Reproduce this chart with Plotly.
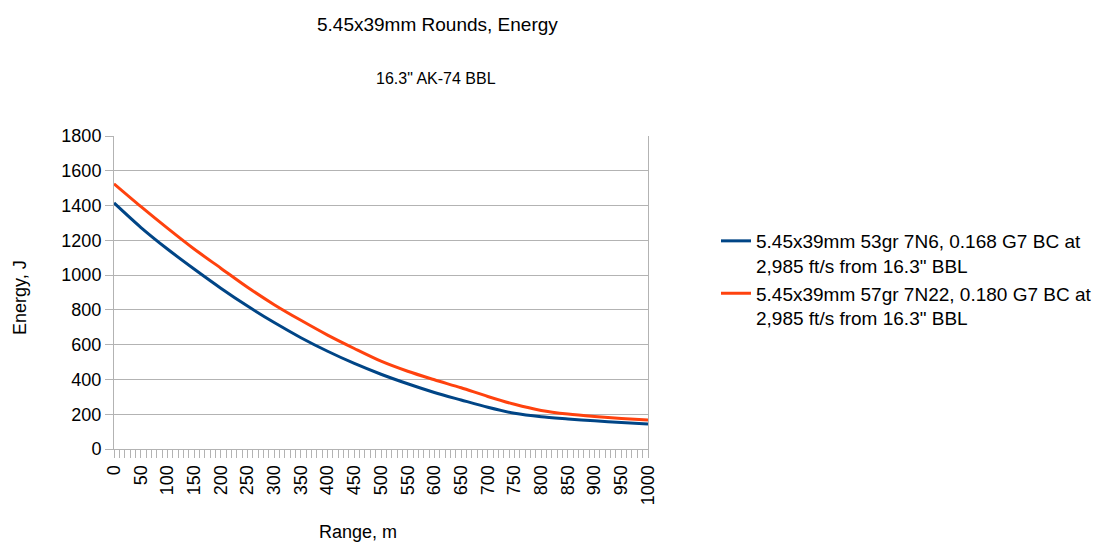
import plotly.graph_objects as go

range_m = [0, 50, 100, 150, 200, 250, 300, 350, 400, 450, 500,
           550, 600, 650, 700, 750, 800, 850, 900, 950, 1000]
energy_7n6 = [1415, 1275, 1150, 1035, 925, 822, 727, 640, 562, 492, 430,
              375, 325, 282, 240, 205, 185, 173, 162, 152, 144]
energy_7n22 = [1525, 1395, 1270, 1150, 1040, 930, 830, 740, 655, 578, 505,
               447, 398, 352, 302, 257, 222, 201, 187, 176, 167]

names = ["5.45x39mm 53gr 7N6, 0.168 G7 BC at<br>2,985 ft/s from 16.3\" BBL",
         "5.45x39mm 57gr 7N22, 0.180 G7 BC at<br>2,985 ft/s from 16.3\" BBL"]
colors = ["#004586", "#ff420e"]

FONT = "Liberation Sans, Arial, sans-serif"

# page has an 8px body margin; all pixel positions below are page positions
OFF = 8
W, H = 1109 - OFF, 545 - OFF
L, R, T, B = 114 - OFF, 1109 - 648, 136 - OFF, 545 - 449
pw, ph = W - L - R, H - T - B

fig = go.Figure()
for ys, nm, c in zip([energy_7n6, energy_7n22], names, colors):
    fig.add_trace(go.Scatter(x=range_m, y=ys, mode="lines", name=nm,
                             line=dict(color=c, width=3, shape="spline", smoothing=0.8)))

grid = "#b3b3b3"


def ann(text, px, py, size, angle=0):
    return dict(text=text, xref="paper", yref="paper",
                x=(px - OFF - L) / pw, y=(H - B - (py - OFF)) / ph,
                xanchor="center", yanchor="middle", showarrow=False,
                textangle=angle, font=dict(family=FONT, size=size, color="#000"))


fig.update_layout(
    width=W, height=H,
    margin=dict(l=L, r=R, t=T, b=B, autoexpand=False),
    paper_bgcolor="white", plot_bgcolor="white",
    font=dict(family=FONT, size=18, color="#000000"),
    showlegend=True,
    legend=dict(x=(716 - OFF - L) / pw, y=(H - B - (222 - OFF)) / ph,
                xanchor="left", yanchor="top",
                font=dict(family=FONT, size=19, color="#000000"),
                valign="top", tracegroupgap=0, itemwidth=30),
    xaxis=dict(range=[0, 1000], tickmode="linear", tick0=0, dtick=50,
               tickangle=-90, ticks="outside", ticklen=8, tickcolor=grid,
               showline=True, linecolor=grid, linewidth=1, showgrid=False,
               zeroline=False,
               minor=dict(dtick=10, ticks="outside", ticklen=8, tickcolor=grid),
               tickfont=dict(family=FONT, size=18)),
    yaxis=dict(range=[0, 1800], tickmode="linear", tick0=0, dtick=200,
               ticks="outside", ticklen=8, tickcolor=grid,
               showline=True, mirror=True, linecolor=grid, linewidth=1,
               showgrid=True, gridcolor=grid, gridwidth=1, zeroline=False,
               tickfont=dict(family=FONT, size=18)),
    annotations=[
        ann("5.45x39mm Rounds, Energy", 437, 25, 19),
        ann("16.3\" AK-74 BBL", 436, 78, 16),
        ann("Range, m", 358, 532, 18),
        ann("Energy, J", 20, 297, 18, angle=-90),
    ],
)

fig.write_html("out.html")
